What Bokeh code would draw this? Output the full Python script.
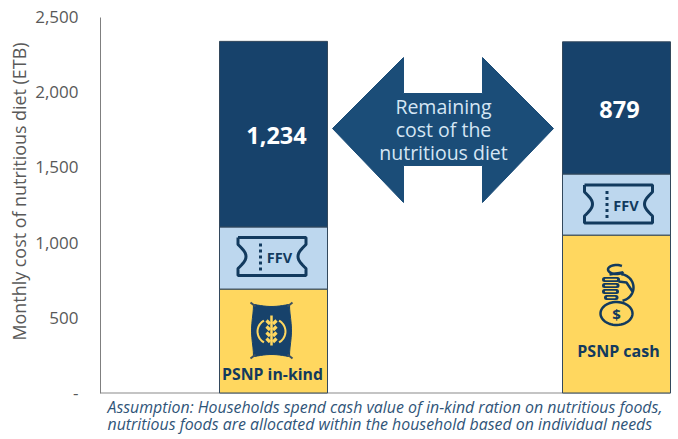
import numpy as np
from bokeh.plotting import figure
from bokeh.models import Range1d, Label, FixedTicker
from bokeh.embed import file_html
from bokeh.resources import INLINE

# ---- data ----
bar_names = ["PSNP in-kind", "PSNP cash"]
psnp_value = [691, 1050]
ffv_value = [413, 406]
remaining_value = [1234, 879]
remaining_labels = ["1,234", "879"]
y_ticks = [0, 500, 1000, 1500, 2000, 2500]
y_tick_labels = ["-", "500", "1,000", "1,500", "2,000", "2,500"]
y_title = "Monthly cost of nutritious diet (ETB)"
arrow_lines = ["Remaining", "cost of the", "nutritious diet"]
note_lines = ["Assumption: Households spend cash value of in-kind ration on nutritious foods,",
              "nutritious foods are allocated within the household based on individual needs"]

# ---- layout / style ----
FONT = "Open Sans"
NAVY, BLUE, LIGHT, YELLOW = "#17426b", "#1b4d78", "#bdd7ee", "#ffd75f"
INK = "#123a5e"
bar_center = [273, 616]
bar_width = 108
W, H = 678, 439

py = lambda v: (392.5 - np.asarray(v, dtype=float)) / 376 * 2500  # pixel row -> data

# The frame fills the page, so all annotation text stays visible;
# the value axis is pinned at the chart's left edge and bounded to 0..2500.
p = figure(width=W, height=H, output_backend="svg", toolbar_location=None,
           x_range=Range1d(0, W), y_range=Range1d(float(py(H)), float(py(0))),
           min_border_left=0, min_border_right=0, min_border_top=0, min_border_bottom=0,
           x_axis_location=None)
p.outline_line_color = None
p.grid.visible = False
ax = p.yaxis[0]
ax.fixed_location = 100
ax.bounds = (0, 2500)
ax.ticker = FixedTicker(ticks=y_ticks)
ax.major_label_overrides = dict(zip(y_ticks, y_tick_labels))
ax.major_tick_line_color = None
ax.minor_tick_line_color = None
ax.major_tick_in = 0
ax.major_tick_out = 0
ax.major_label_standoff = 22
ax.major_label_text_font = FONT
ax.major_label_text_font_size = "17px"
ax.major_label_text_color = "#595959"
ax.axis_line_color = "#7f7f7f"

p.line([100, 670], [0, 0], line_color="#b0b0b0", line_width=1.5)


def put(text, x, y, size, color=INK, style="normal", align="center", baseline="middle", angle=0.0):
    p.add_layout(Label(x=x, y=float(py(y)), text=text, text_font=FONT, text_font_size=f"{size}px",
                       text_color=color, text_font_style=style, text_align=align,
                       text_baseline=baseline, angle=angle))


put(y_title, 18.5, 191, 17.9, color="#595959", angle=np.pi / 2)

# stacked bars
base = np.zeros(2)
for vals, col in [(psnp_value, YELLOW), (ffv_value, LIGHT), (remaining_value, NAVY)]:
    top = base + np.array(vals)
    p.vbar(x=bar_center, width=bar_width, bottom=base, top=top, fill_color=col,
           line_color="#33485c", line_width=1)
    base = top

# double arrow
ax_px = [332, 403, 403, 482, 482, 553, 482, 482, 403, 403]
ay_px = [128, 57, 93, 93, 57, 128, 202, 165, 165, 202]
p.patch(ax_px, py(ay_px), fill_color=BLUE, line_color=BLUE)
for line, y in zip(arrow_lines, [105.5, 128.5, 151.5]):
    put(line, 443, y, 19.5, color="#d5e6f4")


# ticket icons
def ticket(cx, cy):
    w, h, r = 34, 19, 12
    t = np.linspace(-1, 1, 15)
    xr = cx + w - 8 * np.cos(t * np.pi / 2)
    yr = cy + t * r
    xs = [cx - w, cx + w, cx + w] + list(xr) + [cx + w, cx - w, cx - w] + list(2 * cx - xr[::-1]) + [cx - w]
    ys = [cy - h, cy - h, cy - r] + list(yr) + [cy + h, cy + h, cy + r] + list(yr[::-1]) + [cy - h]
    p.line(xs, py(ys), line_color=INK, line_width=3)
    dx = cx - 11.5
    p.line([dx, dx], py([cy - h + 6, cy + h - 4]), line_color=INK, line_width=3, line_dash="3 3")
    put("FFV", cx + 7.5, cy + 1, 14.5, style="bold")


ticket(271.5, 256)
ticket(618, 203.5)

# grain sack icon
cx, cy = 271, 330
t = np.linspace(0, 1, 12)
top_x = np.linspace(cx - 17, cx + 17, 12)
top_y = cy - 26 + 2 * np.sin(np.pi * t)
side_y = np.linspace(cy - 26, cy + 26, 12)
side_x = 18.5 - 1 * np.cos(2 * np.pi * t) + 0.5
p.patch(np.r_[top_x, cx + side_x, top_x[::-1], cx - side_x[::-1]],
        py(np.r_[top_y, side_y, 2 * cy - top_y[::-1], side_y[::-1]]),
        fill_color=NAVY, line_color=NAVY)
for sxx, syy in [(-1, -1), (1, -1), (-1, 1), (1, 1)]:
    p.line([cx + sxx * 16, cx + sxx * 21], py([cy + syy * 24, cy + syy * 28]), line_color="#3c5060", line_width=2)
p.line([cx, cx], py([cy - 15, cy + 15]), line_color=YELLOW, line_width=2.5)
for k in range(4):
    yy = cy - 9 + k * 6
    for s in (-1, 1):
        p.line([cx + s * 1.5, cx + s * 5], py([yy + 2.5, yy - 1]), line_color=YELLOW, line_width=3.2)
for s in (-1, 1):
    a = np.linspace(-1.0, 1.0, 16)
    p.line(cx + s * 14 * np.cos(a), py(cy + 1 + 13 * np.sin(a)), line_color=YELLOW, line_width=2)
put(bar_names[0], 272, 373.5, 15.8, style="bold")

# money bag / fist icon
cx, cy = 616, 313
a = np.linspace(0, 2 * np.pi, 50)
p.line(cx + 16 * np.cos(a), py(cy + 11.5 * np.sin(a)), line_color=INK, line_width=2.5)
put("$", cx, cy + 0.5, 15, style="bold")
b = np.linspace(-1.45, 1.35, 24)
p.line(619 + 14 * np.cos(b), py(287 + 13.5 * np.sin(b)), line_color=INK, line_width=2.5)
p.line([618, 626, 632], py([281, 282, 291]), line_color=INK, line_width=2.5)
for k, yy in enumerate([279, 285, 291, 297]):
    p.line([604 + (k == 3) * 2, 617 - k * 0.5], py([yy, yy]), line_color=INK, line_width=5, line_cap="round")
    p.line([605 + (k == 3) * 2, 616 - k * 0.5], py([yy, yy]), line_color=YELLOW, line_width=1.3, line_cap="round")
c = np.linspace(0.6, 5.4, 30)
p.line(616 + 8.5 * np.cos(c), py(269 + 4.5 * np.sin(c)), line_color=INK, line_width=2.5)
p.line([609, 622], py([274, 272]), line_color=INK, line_width=2.5)
put(bar_names[1], 618, 350.5, 16, style="bold")

# totals
put(remaining_labels[0], 276, 135, 23.5, color="#ffffff", style="bold")
put(remaining_labels[1], 619, 109, 23.5, color="#ffffff", style="bold")

# note
for line, y in zip(note_lines, [406.5, 423.5]):
    put(line, 107, y, 15.9, color="#2f5478", style="italic", align="left")

open("out.html", "w").write(file_html(p, INLINE))
